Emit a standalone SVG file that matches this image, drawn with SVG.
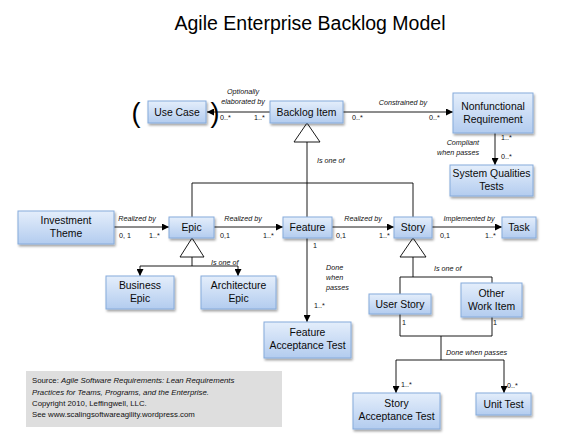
<svg xmlns="http://www.w3.org/2000/svg" width="576" height="438" viewBox="0 0 576 438">
<defs>
<linearGradient id="bg" x1="0" y1="0" x2="0" y2="1">
<stop offset="0" stop-color="#e4eefb"/>
<stop offset="1" stop-color="#b3ccef"/>
</linearGradient>
<filter id="sh" x="-20%" y="-20%" width="140%" height="160%">
<feDropShadow dx="1.2" dy="2" stdDeviation="1.2" flood-color="#000" flood-opacity="0.35"/>
</filter>
<marker id="ar" viewBox="0 0 8 8" refX="8" refY="4" markerWidth="7" markerHeight="7" markerUnits="userSpaceOnUse" orient="auto">
<path d="M0,0 L8,4 L0,8 z" fill="#000"/>
</marker>
<style>
.box{fill:url(#bg);stroke:#86abdb;stroke-width:1;filter:url(#sh)}
.nt{font-family:"Liberation Sans",Arial,sans-serif;font-size:10.4px;fill:#0a0a0a;text-anchor:middle}
.lb{font-family:"Liberation Sans",Arial,sans-serif;font-size:7.2px;font-style:italic;fill:#111}
.mu{font-family:"Liberation Sans",Arial,sans-serif;font-size:7.2px;fill:#111}
.ln{fill:none;stroke:#000;stroke-width:0.9}
.ar{marker-end:url(#ar)}
.tri{fill:#fff;stroke:#000;stroke-width:0.9}
.src{font-family:"Liberation Sans",Arial,sans-serif;font-size:7.8px;fill:#111}
.par{font-family:"Liberation Sans",Arial,sans-serif;font-size:27px;fill:#000;text-anchor:middle}
</style>
</defs>
<rect width="576" height="438" fill="#fff"/>
<text x="310" y="30" font-family="Liberation Sans,Arial,sans-serif" font-size="19.5" text-anchor="middle" fill="#000">Agile Enterprise Backlog Model</text>

<g id="connectors">
<line class="ln ar" x1="270" y1="112" x2="207" y2="112"/>
<line class="ln ar" x1="343" y1="112" x2="453" y2="112"/>
<line class="ln ar" x1="495" y1="133" x2="495" y2="165"/>
<path class="ln" d="M307,142 V217 M192,217 V183 H413 V217"/>
<polygon class="tri" points="307,123 294,142 320,142"/>
<line class="ln ar" x1="114" y1="227" x2="169" y2="227"/>
<line class="ln ar" x1="214" y1="227" x2="283" y2="227"/>
<line class="ln ar" x1="332" y1="227" x2="394" y2="227"/>
<line class="ln ar" x1="432" y1="227" x2="502" y2="227"/>
<path class="ln" d="M192,257 V266 M140,266 H238"/>
<line class="ln ar" x1="140" y1="266" x2="140" y2="276"/>
<line class="ln ar" x1="238" y1="266" x2="238" y2="276"/>
<polygon class="tri" points="192,238 180,257 204,257"/>
<line class="ln ar" x1="307" y1="238" x2="307" y2="322"/>
<path class="ln" d="M413,257 V277 M400,294 V277 H492 V283"/>
<polygon class="tri" points="413,238 400,257 426,257"/>
<path class="ln" d="M400,314 V336 H492 V317 M441,336 V360 M396,360 H504"/>
<line class="ln ar" x1="396" y1="360" x2="396" y2="393"/>
<line class="ln ar" x1="504" y1="360" x2="504" y2="393"/>
<text class="par" x="136" y="122">(</text>
<text class="par" x="215" y="122">)</text>
<text class="lb" x="243" y="94" text-anchor="middle">Optionally</text>
<text class="lb" x="243" y="104" text-anchor="middle">elaborated by</text>
<text class="mu" x="220" y="120">0..*</text>
<text class="mu" x="254" y="120">1..*</text>
<text class="lb" x="403" y="105" text-anchor="middle">Constrained by</text>
<text class="mu" x="352" y="120">0..*</text>
<text class="mu" x="429" y="120">0..*</text>
<text class="mu" x="501" y="140">1..*</text>
<text class="mu" x="501" y="159">0..*</text>
<text class="lb" x="479" y="145" text-anchor="end">Compliant</text>
<text class="lb" x="479" y="155" text-anchor="end">when passes</text>
<text class="lb" x="317" y="163">Is one of</text>
<text class="lb" x="137" y="221" text-anchor="middle">Realized by</text>
<text class="mu" x="119" y="238">0, 1</text>
<text class="mu" x="149" y="238">1..*</text>
<text class="lb" x="243" y="221" text-anchor="middle">Realized by</text>
<text class="mu" x="220" y="238">0,1</text>
<text class="mu" x="263" y="238">1..*</text>
<text class="mu" x="313" y="248">1</text>
<text class="lb" x="363" y="221" text-anchor="middle">Realized by</text>
<text class="mu" x="336" y="238">0,1</text>
<text class="mu" x="379" y="238">1..*</text>
<text class="lb" x="469" y="221" text-anchor="middle">Implemented by</text>
<text class="mu" x="440" y="238">0,1</text>
<text class="mu" x="485" y="238">1..*</text>
<text class="lb" x="211" y="265">Is one of</text>
<text class="lb" x="326" y="270">Done</text>
<text class="lb" x="326" y="280">when</text>
<text class="lb" x="326" y="290">passes</text>
<text class="mu" x="314" y="308">1..*</text>
<text class="lb" x="434" y="271">Is one of</text>
<text class="mu" x="402" y="325">1</text>
<text class="mu" x="493" y="325">1</text>
<text class="lb" x="446" y="355">Done when passes</text>
<text class="mu" x="401" y="387">1..*</text>
<text class="mu" x="507" y="388">0..*</text>
</g>

<g id="use-case"><rect class="box" x="148" y="101" width="58" height="22"/><text class="nt" x="177" y="115.5">Use Case</text></g>
<g id="backlog-item"><rect class="box" x="270" y="101" width="73" height="22"/><text class="nt" x="306.5" y="115.5">Backlog Item</text></g>
<g id="nonfunctional-requirement"><rect class="box" x="453" y="93" width="80" height="40"/><text class="nt" x="493" y="110">Nonfunctional</text><text class="nt" x="493" y="123">Requirement</text></g>
<g id="system-qualities-tests"><rect class="box" x="450" y="165" width="83" height="31"/><text class="nt" x="491.5" y="177">System Qualities</text><text class="nt" x="491.5" y="190">Tests</text></g>
<g id="investment-theme"><rect class="box" x="18" y="211" width="96" height="33"/><text class="nt" x="66" y="224">Investment</text><text class="nt" x="66" y="237">Theme</text></g>
<g id="epic"><rect class="box" x="169" y="217" width="45" height="21"/><text class="nt" x="191.5" y="231">Epic</text></g>
<g id="feature"><rect class="box" x="283" y="217" width="49" height="21"/><text class="nt" x="307.5" y="231">Feature</text></g>
<g id="story"><rect class="box" x="394" y="217" width="38" height="21"/><text class="nt" x="413" y="231">Story</text></g>
<g id="task"><rect class="box" x="502" y="217" width="34" height="21"/><text class="nt" x="519" y="231">Task</text></g>
<g id="business-epic"><rect class="box" x="106" y="276" width="68" height="33"/><text class="nt" x="140" y="289">Business</text><text class="nt" x="140" y="302">Epic</text></g>
<g id="architecture-epic"><rect class="box" x="201" y="276" width="75" height="33"/><text class="nt" x="238.5" y="289">Architecture</text><text class="nt" x="238.5" y="302">Epic</text></g>
<g id="feature-acceptance-test"><rect class="box" x="264" y="322" width="87" height="36"/><text class="nt" x="307.5" y="336">Feature</text><text class="nt" x="307.5" y="349">Acceptance Test</text></g>
<g id="user-story"><rect class="box" x="369" y="294" width="62" height="20"/><text class="nt" x="400" y="307.5">User Story</text></g>
<g id="other-work-item"><rect class="box" x="461" y="283" width="61" height="34"/><text class="nt" x="491.5" y="297">Other</text><text class="nt" x="491.5" y="310">Work Item</text></g>
<g id="story-acceptance-test"><rect class="box" x="353" y="393" width="87" height="36"/><text class="nt" x="396.5" y="407">Story</text><text class="nt" x="396.5" y="420">Acceptance Test</text></g>
<g id="unit-test"><rect class="box" x="476" y="393" width="55" height="22"/><text class="nt" x="503.5" y="407.5">Unit Test</text></g>

<g id="source-note">
<rect x="26" y="371" width="256" height="56" fill="#dedede"/>
<text class="src" x="32" y="383">Source:  <tspan font-style="italic">Agile Software Requirements: Lean Requirements</tspan></text>
<text class="src" x="32" y="395" font-style="italic">Practices for Teams, Programs, and the Enterprise.</text>
<text class="src" x="32" y="406">Copyright 2010, Leffingwell, LLC.</text>
<text class="src" x="32" y="417">See www.scalingsoftwareagility.wordpress.com</text>
</g>
</svg>
